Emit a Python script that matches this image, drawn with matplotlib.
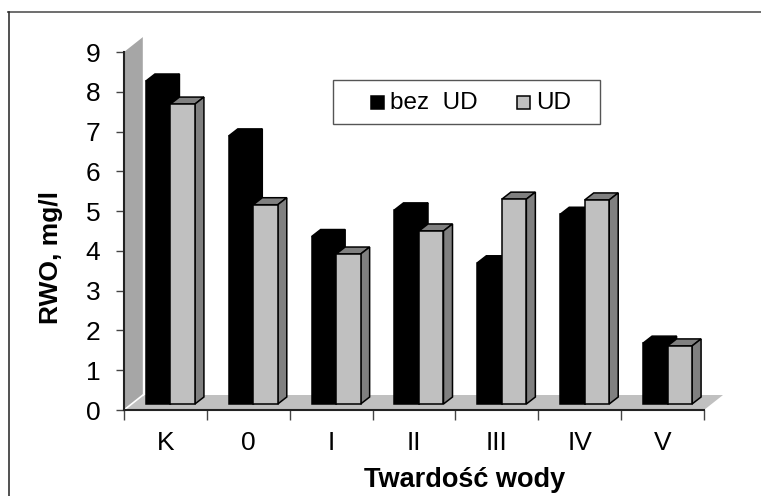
#Bar chart with a fake 3D look - RWO against water hardness
import matplotlib
matplotlib.use('Agg')
import matplotlib.pyplot as plt
from matplotlib.lines import Line2D
from matplotlib.patches import Rectangle, Polygon

plt.rcParams['font.family'] = ['Liberation Sans', 'DejaVu Sans']

#Data
categories = ['K', '0', 'I', 'II', 'III', 'IV', 'V']
bez_ud = [8.12, 6.74, 4.21, 4.88, 3.55, 4.77, 1.53]
ud = [7.54, 5.01, 3.77, 4.35, 5.15, 5.13, 1.46]
y_ticks = [0, 1, 2, 3, 4, 5, 6, 7, 8, 9]

W, H = 761, 496
fig = plt.figure(figsize=(W / 100, H / 100), dpi=100)
fig.patch.set_facecolor('white')

#The frame only shows on the top and left, the rest is cut off
fig.add_artist(Line2D([8 / W, 1], [1 - 12 / H, 1 - 12 / H], color='#6e6e6e', linewidth=1.4))
fig.add_artist(Line2D([8.5 / W, 8.5 / W], [0, 1 - 12 / H], color='#222222', linewidth=1.1))

#Axes placed on the pixel positions of the axis lines
left, right, bottom, top = 124, 704, 410, 52
ax = fig.add_axes([left / W, 1 - bottom / H, (right - left) / W, (bottom - top) / H])
ax.set_xlim(0, len(categories))
ax.set_ylim(0, 9)
ax.patch.set_visible(False)

#Pixels to data units, the depth of the 3D effect
ux = len(categories) / (right - left)
uy = 9 / (bottom - top)
wall_dx, wall_dy = 19 * ux, 15 * uy
bar_dx, bar_dy = 9 * ux, 7 * uy
base = 6 * uy
bar_w = 24.5 * ux
group_shift = 5 * ux
n = len(categories)

#Wall and floor
ax.add_patch(Polygon([(0, 0), (wall_dx, wall_dy), (wall_dx, 9 + wall_dy), (0, 9)],
                     closed=True, facecolor='#a6a6a6', edgecolor='none', clip_on=False, zorder=1))
ax.add_patch(Polygon([(0, 0), (wall_dx, wall_dy), (n + wall_dx, wall_dy), (n, 0)],
                     closed=True, facecolor='#c0c0c0', edgecolor='none', clip_on=False, zorder=1))
ax.plot([0, wall_dx], [0, wall_dy], color='white', linewidth=1.2, zorder=2, clip_on=False)
ax.plot([wall_dx, wall_dx], [wall_dy, 9 + wall_dy], color='white', linewidth=1, zorder=2, clip_on=False)


def draw_bar(x, value, front, shade, z):
    #top and side faces first, the front goes over them
    y1 = base + value
    ax.add_patch(Polygon([(x, y1), (x + bar_dx, y1 + bar_dy), (x + bar_w + bar_dx, y1 + bar_dy), (x + bar_w, y1)],
                         closed=True, facecolor=shade, edgecolor='black', linewidth=1.1, zorder=z))
    ax.add_patch(Polygon([(x + bar_w, base), (x + bar_w + bar_dx, base + bar_dy),
                          (x + bar_w + bar_dx, y1 + bar_dy), (x + bar_w, y1)],
                         closed=True, facecolor=shade, edgecolor='black', linewidth=1.1, zorder=z))
    ax.bar(x, value, bar_w, bottom=base, align='edge', color=front, edgecolor='black', linewidth=1.1, zorder=z + 0.1)


for i in range(n):
    x0 = i + 0.5 - bar_w + group_shift
    draw_bar(x0, bez_ud[i], 'black', 'black', 3)
    draw_bar(x0 + bar_w, ud[i], '#c0c0c0', '#808080', 4)

#Axes lines and labels
for side in ['top', 'right']:
    ax.spines[side].set_visible(False)
for side in ['left', 'bottom']:
    ax.spines[side].set_linewidth(1.5)
    ax.spines[side].set_color('#222222')
ax.set_yticks(y_ticks)
ax.set_xticks(range(n + 1))
ax.set_xticks([i + 0.5 for i in range(n)], minor=True)
ax.set_xticklabels([''] * (n + 1))
ax.set_xticklabels(categories, minor=True, fontsize=19)
ax.tick_params(axis='x', which='major', direction='out', length=7, width=1, color='#444444')
ax.tick_params(axis='x', which='minor', length=0, pad=15)
ax.tick_params(axis='y', direction='out', length=6, width=1, color='#444444', labelsize=19, pad=11)
ax.set_xlabel('Twardość wody', fontsize=19.5, fontweight='bold')
ax.set_ylabel('RWO, mg/l', fontsize=19, fontweight='bold')
#Label spots in axes fractions, they are not centred on the axes in the original
ax.xaxis.set_label_coords(0.588, -0.158)
ax.yaxis.set_label_coords(-0.105, 0.427)

#Legend box drawn by hand, it sits on its own spot with small square markers
fig.add_artist(Rectangle((333 / W, 1 - 124 / H), 267 / W, 44 / H, transform=fig.transFigure,
                         facecolor='white', edgecolor='#555555', linewidth=1))
fig.add_artist(Rectangle((371 / W, 1 - 109 / H), 13 / W, 13 / H, transform=fig.transFigure,
                         facecolor='black', edgecolor='black', linewidth=1.1))
fig.add_artist(Rectangle((517 / W, 1 - 109 / H), 13 / W, 13 / H, transform=fig.transFigure,
                         facecolor='#c0c0c0', edgecolor='black', linewidth=1.1))
fig.text(390 / W, 1 - 103 / H, 'bez  UD', fontsize=17.5, va='center')
fig.text(536 / W, 1 - 103 / H, 'UD', fontsize=17.5, va='center')

fig.savefig('out.png', dpi=100)
